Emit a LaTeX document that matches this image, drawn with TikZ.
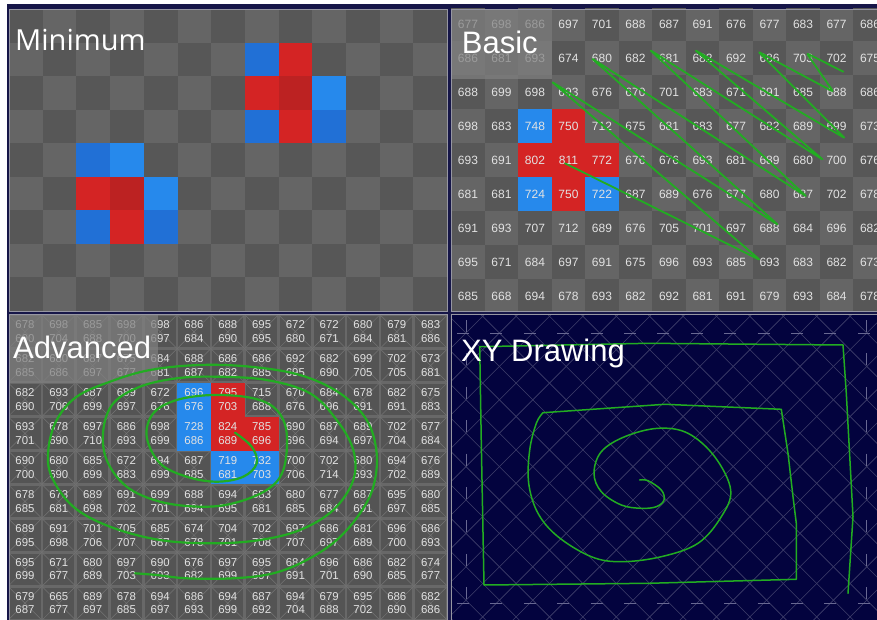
\documentclass[tikz,border=0pt]{standalone}
\usepackage{fontspec}
\setmainfont{Liberation Sans}
\newfontfamily\minifont{Open Sans}
\definecolor{navyframe}{RGB}{22,22,72}
\definecolor{celldark}{RGB}{87,87,87}
\definecolor{celllight}{RGB}{101,101,101}
\definecolor{bevelrim}{RGB}{104,104,104}
\definecolor{bevelcore}{RGB}{84,84,84}
\definecolor{bevelline}{RGB}{116,116,116}
\definecolor{hotred}{RGB}{212,36,36}
\definecolor{deepred}{RGB}{188,34,34}
\definecolor{coldblue}{RGB}{33,112,214}
\definecolor{skyblue}{RGB}{38,137,236}
\definecolor{plotnavy}{RGB}{3,3,62}
\definecolor{plothatch}{RGB}{64,64,108}
\definecolor{plotdash}{RGB}{104,104,146}
\definecolor{penline}{RGB}{34,172,34}
\definecolor{digit}{RGB}{226,226,226}
\definecolor{boxgray}{RGB}{128,128,128}
\definecolor{rimgray}{RGB}{150,150,162}
\tikzset{
  cellnum/.style={font=\fontsize{12}{12}\selectfont,text=digit,inner sep=0pt},
  pairnum/.style={font=\fontsize{11.4}{11.4}\selectfont,text=digit,inner sep=0pt},
  paneltitle/.style={anchor=base west,inner sep=0pt,text=white,font=\fontsize{31}{31}\selectfont},
  titlebox/.style={fill=boxgray,fill opacity=0.72},
  panelrim/.style={draw=rimgray,line width=0.9pt},
  pen/.style={draw=penline,line width=1.8pt,line join=round,line cap=round}
}
\begin{document}
\begin{tikzpicture}[x=1pt,y=-1pt]
    \useasboundingbox (0,0) rectangle (877,620);
    \fill[white] (0,0) rectangle (877,620);
    \fill[navyframe] (6.5,4.5) rectangle (877,620);
    \begin{scope}
      \clip (9,9) rectangle (447,311);
      \fill[celllight] (9,9) rectangle (447,311);
      \foreach \cx in {0,...,12}
        \foreach \ry in {0,...,8} {
          \pgfmathtruncatemacro\cellparity{mod(\cx+\ry,2)}
          \ifnum\cellparity=0 \fill[celldark] ({9+\cx*33.7},{9+\ry*33.55}) rectangle ++(33.7,33.55);\fi
        }
      \foreach \cx/\ry/\tone in {7/1/coldblue,8/1/hotred,7/2/hotred,8/2/deepred,9/2/skyblue,7/3/coldblue,8/3/hotred,9/3/coldblue,
                                 2/4/coldblue,3/4/skyblue,2/5/hotred,3/5/deepred,4/5/skyblue,2/6/coldblue,3/6/hotred,4/6/coldblue}
        \fill[\tone] ({9+\cx*33.7},{9+\ry*33.55}) rectangle ++(33.7,33.55);
      \node[paneltitle,font=\minifont\fontsize{29}{29}\selectfont] (minlabel) at (15,50.7) {Minimum};
    \end{scope}
    \draw[panelrim] (9,9) rectangle (447,311);
    \begin{scope}
      \clip (451,9) rectangle (877,311);
      \fill[celllight] (451,9) rectangle (877,311);
      \foreach \cx in {0,...,12}
        \foreach \ry in {0,...,8} {
          \pgfmathtruncatemacro\cellparity{mod(\cx+\ry,2)}
          \ifnum\cellparity=0 \fill[celldark] ({451.25+\cx*33.5},{7+\ry*34}) rectangle ++(33.5,34);\fi
        }
      \foreach \cx/\ry/\tone in {2/3/skyblue,3/3/hotred,2/4/hotred,3/4/hotred,4/4/hotred,2/5/skyblue,3/5/hotred,4/5/skyblue}
        \fill[\tone] ({451.25+\cx*33.5},{7+\ry*34}) rectangle ++(33.5,34);
      \foreach \row [count=\ry from 0] in {
          {677,698,686,697,701,688,687,691,676,677,683,677,686},
          {686,681,693,674,680,682,681,682,692,686,703,702,675},
          {688,699,698,693,676,670,701,683,671,691,685,688,686},
          {698,683,748,750,712,675,681,683,677,682,689,699,673},
          {693,691,802,811,772,676,676,693,681,689,680,700,676},
          {681,681,724,750,722,687,689,676,677,680,687,702,678},
          {691,693,707,712,689,676,705,701,697,688,684,696,682},
          {695,671,684,697,691,675,696,693,685,693,683,682,673},
          {685,668,694,678,693,682,692,681,691,679,693,684,678}}
        \foreach \v [count=\cx from 0] in \row
          \node[cellnum] (b\ry-\cx) at ({468+\cx*33.5},{24+\ry*34}) {\v};
      \draw[pen,rounded corners=2pt] (565,163.3) -- (760,260) -- (551.7,81.7) -- (778.3,225) -- (591.7,58.3)
        -- (806.7,196.7) -- (650,50) -- (823.3,160) -- (695,50) -- (845,138.3) -- (758.3,51.7)
        -- (833.3,91.7) -- (806.7,53.3) -- (843.3,71.7);
      \fill[titlebox] (451,9) rectangle (551.7,79);
      \node[paneltitle] (basiclabel) at (461.7,53.3) {Basic};
    \end{scope}
    \draw[panelrim] (451,9) rectangle (878,311);
    \begin{scope}
      \clip (9,314) rectangle (447,620);
      \fill[bevelrim] (9,314) rectangle (447,620);
      \foreach \cx in {0,...,12}
        \foreach \ry in {0,...,8} {
          \fill[bevelcore] ({8.1+\cx*33.8+1.3},{314.7+\ry*33.95+1.3}) rectangle ++(31.2,31.35);
          \draw[bevelline,line width=0.5pt] ({8.1+\cx*33.8},{314.7+\ry*33.95}) -- ++(33.8,33.95)
            ({8.1+\cx*33.8+33.8},{314.7+\ry*33.95}) -- ++(-33.8,33.95);
        }
      \foreach \cx/\ry/\tone in {5/2/skyblue,5/3/skyblue,6/2/hotred,6/3/hotred,7/3/hotred,6/4/skyblue,7/4/skyblue}
        \fill[\tone] ({8.1+\cx*33.8},{314.7+\ry*33.95}) rectangle ++(33.8,33.95);
      \foreach \row [count=\ry from 0] in {
          {678/690,698/704,685/688,698/700,698/697,686/684,688/690,695/695,672/680,672/671,680/684,679/681,683/686},
          {682/685,680/686,687/697,675/677,684/681,688/687,686/682,686/685,692/695,682/690,699/705,702/705,673/681},
          {682/690,693/706,687/699,689/697,672/676,696/676,795/703,715/688,670/676,684/696,678/691,682/691,675/683},
          {693/701,678/690,697/710,686/693,698/699,728/686,824/689,785/696,690/696,687/694,689/697,702/704,677/684},
          {690/700,680/690,685/699,672/683,694/699,687/685,719/681,732/703,700/706,702/714,680/693,694/702,676/689},
          {678/685,673/681,689/698,691/702,699/701,688/694,694/695,683/681,680/685,677/684,687/691,695/697,680/685},
          {689/695,691/698,701/706,705/707,685/687,674/678,704/701,702/708,697/707,686/697,681/689,696/700,686/693},
          {695/699,671/677,680/689,697/703,690/693,676/682,697/699,695/697,684/691,696/701,686/690,682/685,674/677},
          {679/687,665/677,689/697,678/685,694/697,686/693,694/699,687/692,694/704,679/688,695/702,686/690,682/686}}
        \foreach \topv/\botv [count=\cx from 0] in \row {
          \node[pairnum] (a\ry-\cx-t) at ({25+\cx*33.8},{331.7+\ry*33.95-6.7}) {\topv};
          \node[pairnum] (a\ry-\cx-b) at ({25+\cx*33.8},{331.7+\ry*33.95+6.7}) {\botv};
        }
      \fill[titlebox] (7.3,314) rectangle (157.7,383.3);
      \draw[pen,line width=2.2pt] plot[smooth,tension=0.6] coordinates {
          (235,432.7) (251.7,446.7) (256.7,463.3) (243.3,476.7) (216.7,481.7) (186.7,476.7) (160,463.3)
          (146.7,436.7) (153.3,413.3) (176.7,400) (213.3,395) (253.3,398.3) (276.7,410) (286.7,433.3)
          (283.3,470) (266.7,490) (233.3,503.3) (200,506.7) (160,501.7) (126.7,486.7) (106.7,460)
          (103.3,430) (113.3,403.3) (140,386.7) (176.7,378.3) (216.7,376.7) (266.7,380) (310,393.3)
          (336.7,420) (353.3,450) (353.3,480) (333.3,510) (300,530) (260,540) (213.3,543.3) (160,540)
          (110,526.7) (73.3,506.7) (51.7,476.7) (48.3,450) (56.7,420) (76.7,396.7) (110,381.7) (150,370)
          (200,365) (250,366.7) (300,375) (340,393.3) (366.7,420) (376.7,453.3) (373.3,486.7) (360,513.3)
          (336.7,540) (306.7,560) (273.3,573.3) (233.3,578.3) (186.7,578.3) (156.7,575) (135,573.3)};
      \node[paneltitle] (advlabel) at (13,358) {Advanced};
    \end{scope}
    \draw[panelrim] (9,314) rectangle (447,621);
    \begin{scope}
      \clip (451,314) rectangle (877,620);
      \fill[plotnavy] (451,314) rectangle (877,620);
      \foreach \k in {-12,...,24} {
        \draw[plothatch,line width=0.6pt] ({466+\k*33.4-400},{333-400}) -- ++(800,800);
        \draw[plothatch,line width=0.6pt] ({466+\k*33.4-400},{333+400}) -- ++(800,-800);
      }
      \draw[plotdash,line width=1pt,dash pattern=on 12pt off 21.4pt,dash phase=-6pt]
        (451,333) -- (877,333) (451,603) -- (877,603);
      \draw[plotdash,line width=1pt,dash pattern=on 12pt off 21.4pt,dash phase=-6pt]
        (466,314) -- (466,620) (866,314) -- (866,620);
      \draw[pen,line width=1.5pt] plot[smooth,tension=0.6] coordinates {
          (639.7,480) (648,480.7) (661.3,490) (664,500) (656.3,506.7) (641.3,508.3) (621.3,505)
          (601.3,491.7) (594,473.3) (601.3,451.7) (624.7,436.7) (658,428.3) (688,433.3) (714.7,456.7)
          (730.7,490) (721.3,516.7) (698,543.3) (661.3,556.7) (621.3,561.7) (591.3,556.7) (558,536.7)
          (538,513.3) (528.7,483.3) (529.7,450) (536.3,423.3) (543,412.7)}
        -- (664.7,404.3) -- (781.3,409.3) -- (788,453.3) -- (793,496.7) -- (796.3,523.3) -- (796.3,579.3)
        -- (648,583.3) -- (484,585) -- (481.3,443.3) -- (479.7,346.7) -- (648,343.3) -- (843,345)
        -- (846.3,393.3) -- (853,516.7) -- (848,593.3);
      \node[paneltitle] (xylabel) at (461,361.7) {XY Drawing};
    \end{scope}
    \draw[panelrim] (451,314) rectangle (878,621);
\end{tikzpicture}
\end{document}
